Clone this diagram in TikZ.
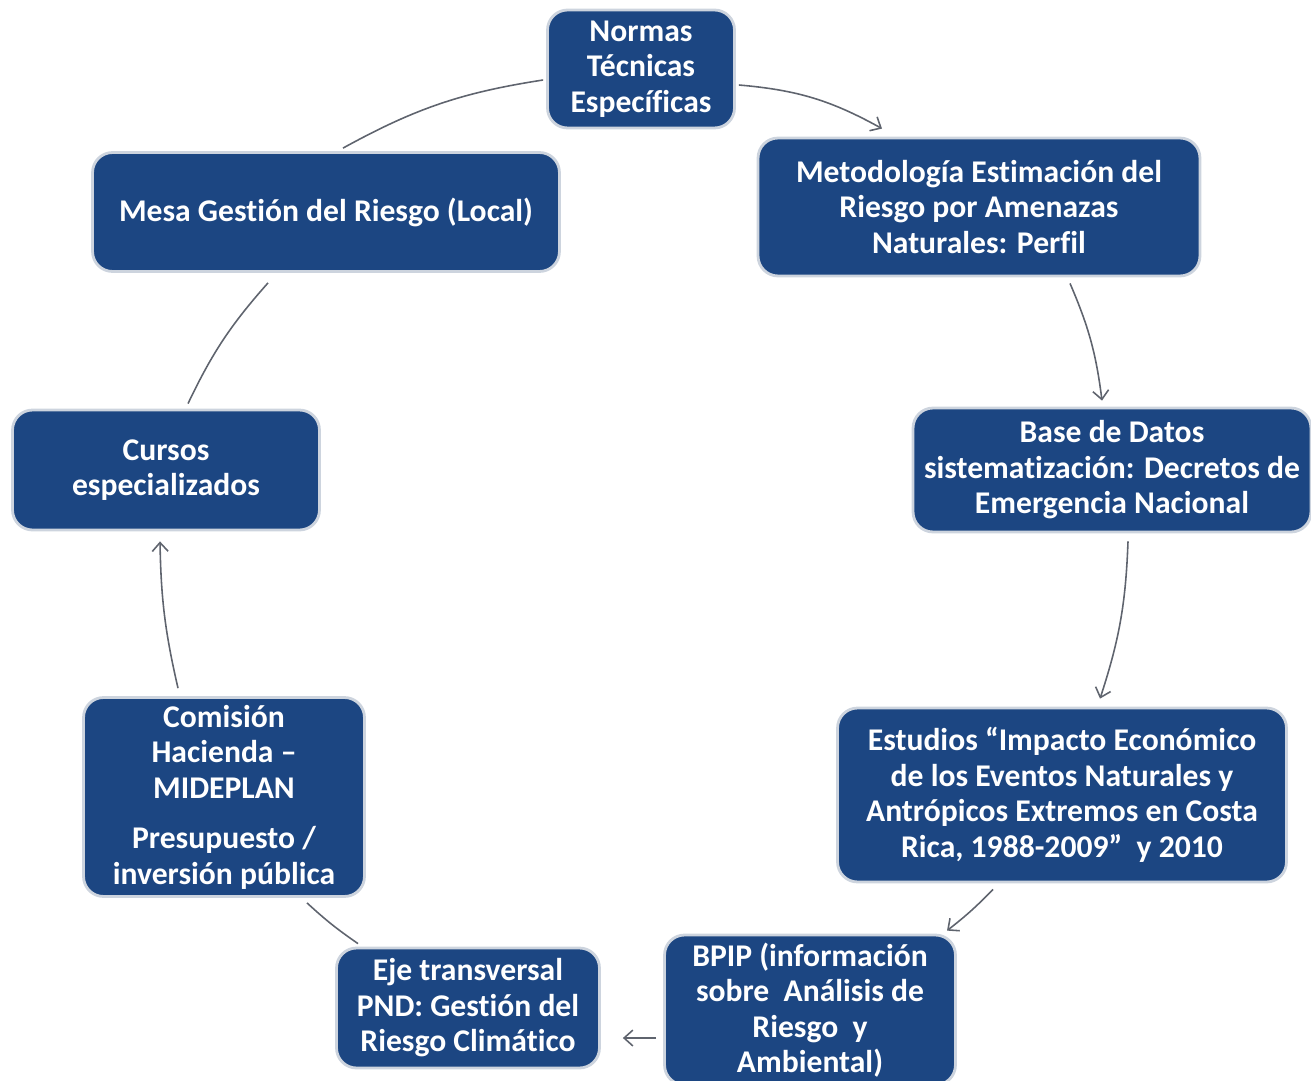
\documentclass[tikz,border=0pt]{standalone}
\usepackage{fontspec}
\setmainfont{Carlito}[RawFeature={-liga;-clig;-calt}]
\usetikzlibrary{arrows.meta,calc}
\definecolor{boxblue}{RGB}{28,70,130}
\definecolor{boxedge}{RGB}{205,212,222}
\definecolor{linegray}{RGB}{95,100,110}
\tikzset{
  etapa/.style={rectangle,rounded corners=0.4cm,fill=boxblue,draw=boxedge,
    line width=1.6pt,text=white,align=center,inner sep=0pt,
    font=\bfseries\fontsize{18}{20.2}\selectfont},
  enlace/.style={draw=linegray,line width=0.9pt},
  >={Straight Barb[length=5pt,width=9pt]}
}
\begin{document}
\begin{tikzpicture}[x=0.02cm,y=-0.02cm]
  \useasboundingbox (0,0) rectangle (1311,1081);
  % etapas del ciclo
  \node[etapa,minimum width=3.74cm,minimum height=2.36cm] (normas) at (641,69)
    {Normas\\Técnicas\\Específicas};
  \node[etapa,minimum width=8.84cm,minimum height=2.76cm] (metod) at (979,207)
    {Metodología Estimación del\\Riesgo por Amenazas\\Naturales: Perfil};
  \node[etapa,minimum width=7.96cm,minimum height=2.48cm] (base) at (1112,470)
    {Base de Datos\\sistematización: Decretos de\\Emergencia Nacional};
  \node[etapa,minimum width=8.98cm,minimum height=3.48cm] (estud) at (1062,795)
    {Estudios “Impacto Económico\\de los Eventos Naturales y\\Antrópicos Extremos en Costa\\Rica, 1988-2009”~~y 2010};
  \node[etapa,minimum width=5.82cm,minimum height=3.0cm] (bpip) at (810,1010)
    {BPIP (información\\sobre~~Análisis de\\Riesgo~~y\\Ambiental)};
  \node[etapa,minimum width=5.26cm,minimum height=2.4cm] (eje) at (468,1008)
    {Eje transversal\\PND: Gestión del\\Riesgo Climático};
  \node[etapa,minimum width=5.62cm,minimum height=3.98cm] (comision) at (224,797)
    {Comisión\\Hacienda –\\MIDEPLAN\\[0.3cm]Presupuesto /\\inversión pública};
  \node[etapa,minimum width=6.14cm,minimum height=2.4cm] (cursos) at (166,470)
    {Cursos\\especializados};
  \node[etapa,minimum width=9.34cm,minimum height=2.38cm] (mesa) at (326,212)
    {Mesa Gestión del Riesgo (Local)};
  % conectores
  \draw[enlace,->] ($(normas.east)+(3,16)$) to[bend left=12] ($(metod.north)+(-97,-8)$);
  \draw[enlace,->] ($(metod.south)+(91,6)$) to[bend left=8] ($(base.north)+(-10,-6)$);
  \draw[enlace,->] ($(base.south)+(16,8)$) to[bend left=8] ($(estud.north)+(38,-8)$);
  \draw[enlace,->] ($(estud.south)+(-69,6)$) to[bend left=4] ($(bpip.north)+(137,-3)$);
  \draw[enlace,->] ($(bpip.west)+(-7,28)$) -- ($(eje.east)+(22,30)$);
  \draw[enlace] ($(eje.north)+(-110,-3)$) to[bend left=4] ($(comision.south)+(83,5)$);
  \draw[enlace,->] ($(comision.north)+(-46,-8)$) to[bend left=6] ($(cursos.south)+(-6,10)$);
  \draw[enlace] ($(cursos.north)+(22,-5)$) to[bend left=8] ($(mesa.south)+(-58,10)$);
  \draw[enlace] ($(mesa.north)+(17,-3)$) to[bend left=10] ($(normas.west)+(-3,11)$);
\end{tikzpicture}
\end{document}
